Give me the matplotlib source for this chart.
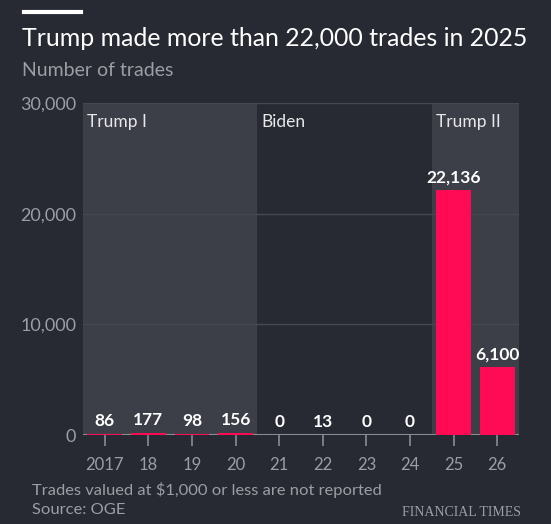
import matplotlib.pyplot as plt
from matplotlib.lines import Line2D

years = ["2017", "18", "19", "20", "21", "22", "23", "24", "25", "26"]
trades = [86, 177, 98, 156, 0, 13, 0, 0, 22136, 6100]
terms = ["Trump I", "Biden", "Trump II"]
term_start = [0, 4, 8]
term_end = [3, 7, 9]
term_shaded = [True, False, True]
yticks = [0, 10000, 20000, 30000]

bg = "#272a33"
shade = "#3d3f48"
grid = "#474951"
grey = "#9c9ea4"
red = "#ff0a55"

plt.rcParams["font.family"] = ["Lato", "DejaVu Sans"]

fig = plt.figure(figsize=(5.51, 5.24), dpi=100, facecolor=bg)
ax = fig.add_axes([83 / 551, 1 - 435 / 524, 436 / 551, 332 / 524])
ax.set_facecolor(bg)

for name, s, e, sh in zip(terms, term_start, term_end, term_shaded):
    if sh:
        ax.axvspan(s - 0.5, e + 0.5, color=shade, zorder=0, lw=0)
    ax.text(s - 0.4, 28300, name, color="#e8e8ea", fontsize=12.5,
            va="center", ha="left", zorder=3)

for t in yticks[1:]:
    ax.axhline(t, color=grid, lw=1.0, zorder=1)

# baseline below the bars so the tiny Trump I bars show as red slivers
ax.axhline(0, color="#8a8c92", lw=1.5, zorder=1.5)

x = range(len(years))
ax.bar(x, trades, width=0.8, color=red, zorder=2)
for i, v in zip(x, trades):
    ax.text(i, max(v, 0) + 450, f"{v:,}", color="white", fontsize=12.5,
            fontweight="bold", ha="center", va="bottom", zorder=3)

ax.set_xlim(-0.5, 9.5)
ax.set_ylim(0, 30000)
ax.set_xticks(list(x))
ax.set_xticklabels(years)
ax.set_yticks(yticks)
ax.set_yticklabels([f"{t:,}" for t in yticks])
ax.tick_params(axis="x", colors=grey, labelsize=12, length=8, width=1.2,
               pad=8, color="#8a8c92")
ax.tick_params(axis="y", colors=grey, labelsize=13, length=0, pad=5)
for sp in ax.spines.values():
    sp.set_visible(False)

fig.add_artist(Line2D([24 / 551, 81 / 551], [1 - 12 / 524, 1 - 12 / 524],
                      color="white", lw=3))
fig.text(22 / 551, 1 - 38 / 524, "Trump made more than 22,000 trades in 2025",
         color="white", fontsize=17.9, va="center", ha="left")
fig.text(22 / 551, 1 - 71 / 524, "Number of trades", color=grey,
         fontsize=14, va="center", ha="left")
fig.text(32 / 551, 1 - 490 / 524, "Trades valued at $1,000 or less are not reported",
         color=grey, fontsize=11.85, va="center", ha="left")
fig.text(32 / 551, 1 - 510 / 524, "Source: OGE", color=grey,
         fontsize=11.85, va="center", ha="left")
fig.text(521 / 551, 1 - 512 / 524, "FINANCIAL TIMES", color=grey,
         fontsize=10, va="center", ha="right",
         family=["Liberation Serif", "DejaVu Serif"])

fig.savefig("out.png", dpi=100, facecolor=bg)
